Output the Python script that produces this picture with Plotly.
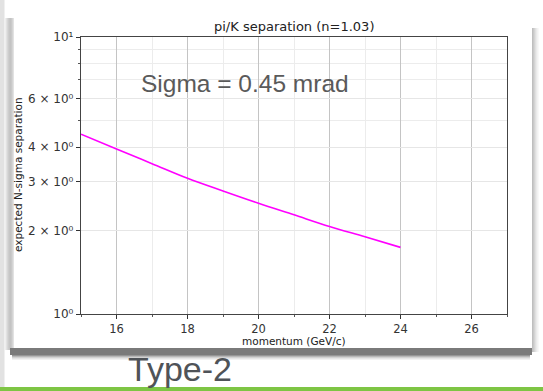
import plotly.graph_objects as go

# data
momentum = [15, 16, 17, 18, 19, 20, 21, 22, 23, 24]
n_sigma = [4.46, 3.94, 3.49, 3.09, 2.78, 2.51, 2.28, 2.07, 1.90, 1.74]

x_ticks = [16, 18, 20, 22, 24, 26]
y_ticks = [1, 2, 3, 4, 6, 10]
y_ticktext = ["10\u2070", "2 \u00d7 10\u2070", "3 \u00d7 10\u2070", "4 \u00d7 10\u2070", "6 \u00d7 10\u2070", "10\u00b9"]
y_minor = [5, 7, 8, 9]
x_minor = [15, 17, 19, 21, 23, 25, 27]

W, H = 543, 391
L, R, T, B = 81, 36, 37, 77
PW, PH = W - L - R, H - T - B


def px(x):
    return (x - L) / PW


def py(y):
    return (H - B - y) / PH


fig = go.Figure()
fig.add_trace(go.Scatter(x=momentum, y=n_sigma, mode="lines",
                         line=dict(color="#ff00ff", width=1.6, shape="spline"),
                         showlegend=False, hoverinfo="skip"))

shapes = []


def rect(x0, y0, x1, y1, color, opacity=1.0):
    shapes.append(dict(type="rect", xref="paper", yref="paper",
                       x0=px(x0), x1=px(x1), y0=py(y0), y1=py(y1),
                       fillcolor=color, opacity=opacity, line=dict(width=0),
                       layer="below"))


# left light gray strip
rect(0, 0, 4.5, 387, "#e2e2e2")
# left vertical shadow (gradient)
for i, op in enumerate([0.12, 0.2, 0.28, 0.35, 0.4, 0.42, 0.38, 0.3, 0.2]):
    rect(5 + i, 18, 6 + i, 350, "#707070", op)
# right vertical shadow
for i, op in enumerate([0.45, 0.38, 0.3, 0.22, 0.15, 0.09, 0.05]):
    rect(532 + i, 28, 533 + i, 352, "#707070", op)
# bottom horizontal shadow
rect(10, 348, 532, 355, "#7a7a7a", 1.0)
for i, op in enumerate([0.8, 0.55, 0.35, 0.2, 0.1]):
    rect(12, 355 + i, 530, 356 + i, "#7a7a7a", op)
# green bar
rect(0, 387, 543, 391, "#7ec544")

annotations = [
    dict(text="pi/K separation (n=1.03)", xref="paper", yref="paper",
         x=0.5, y=py(26), showarrow=False, xanchor="center", yanchor="middle",
         font=dict(family="DejaVu Sans", size=13, color="#222")),
    dict(text="Sigma = 0.45 mrad", xref="paper", yref="paper",
         x=px(245), y=py(83), showarrow=False, xanchor="center", yanchor="middle",
         font=dict(family="Liberation Sans", size=24.5, color="#5a5a5a")),
    dict(text="Type-2", xref="paper", yref="paper",
         x=px(180), y=py(369), showarrow=False, xanchor="center", yanchor="middle",
         font=dict(family="Liberation Sans", size=34, color="#4f5358")),
    dict(text="momentum (GeV/c)", xref="paper", yref="paper",
         x=0.5, y=py(341), showarrow=False, xanchor="center", yanchor="middle",
         font=dict(family="DejaVu Sans", size=10.5, color="#222")),
    dict(text="expected N-sigma separation", xref="paper", yref="paper",
         x=px(18), y=py(175), showarrow=False, xanchor="center", yanchor="middle",
         textangle=-90,
         font=dict(family="DejaVu Sans", size=10.5, color="#222")),
]

fig.update_layout(
    width=W, height=H,
    margin=dict(l=L, r=R, t=T, b=B, pad=0),
    paper_bgcolor="white", plot_bgcolor="white",
    shapes=shapes, annotations=annotations,
    xaxis=dict(range=[15, 27], tickvals=x_ticks, showgrid=True,
               gridcolor="#c4c4c4", gridwidth=1,
               ticks="outside", ticklen=4, tickcolor="#333",
               showline=True, linecolor="#444", linewidth=1.3, mirror=True,
               zeroline=False,
               tickfont=dict(family="DejaVu Sans", size=11.5, color="#333"),
               minor=dict(tickvals=x_minor, showgrid=True, gridcolor="#ececec",
                          ticks="outside", ticklen=2, tickcolor="#555")),
    yaxis=dict(type="log", range=[0, 1], tickvals=y_ticks, ticktext=y_ticktext,
               showgrid=True, gridcolor="#e6e6e6", gridwidth=1,
               ticks="outside", ticklen=4, tickcolor="#333",
               showline=True, linecolor="#444", linewidth=1.3, mirror=True,
               zeroline=False,
               tickfont=dict(family="DejaVu Sans", size=12, color="#333"),
               minor=dict(tickvals=y_minor, showgrid=True, gridcolor="#ececec",
                          ticks="outside", ticklen=2, tickcolor="#555")),
)

fig.write_html("out.html")
